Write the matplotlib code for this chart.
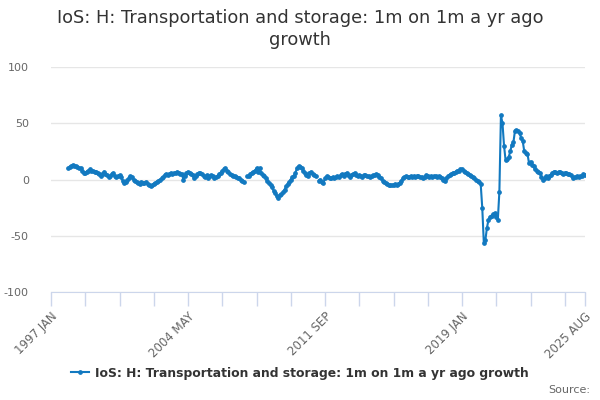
import numpy as np
import matplotlib
matplotlib.use("Agg")
from matplotlib import pyplot as plt

nan = np.nan

# monthly growth (%), one list per year, Jan..Dec
y1997 = [nan] * 11 + [10]
y1998 = [11, 12, 13, 12, 12, 11, 10, 10, 8, 6, 6, 7]
y1999 = [8, 9, 8, 8, 7, 7, 6, 5, 3, 5, 7, 5]
y2000 = [4, 2, 3, 5, 6, 3, 2, 3, 4, 2, -1, -3]
y2001 = [-2, 0, 1, 3, 2, 0, -1, -2, -3, -4, -2, -3]
y2002 = [-3, -2, -4, -5, -6, -5, -4, -3, -2, -1, 0, 1]
y2003 = [2, 4, 5, 4, 5, 6, 5, 6, 6, 7, 6, 5]
y2004 = [5, 0, 3, 6, 7, 6, 5, 4, 1, 3, 5, 6]
y2005 = [6, 5, 3, 2, 4, 1, 3, 4, 3, 1, 2, 3]
y2006 = [5, 6, 8, 9, 10, 8, 7, 5, 4, 3, 3, 2]
y2007 = [1, 1, 0, -1, -2, nan, 3, 3, 5, 6, 7, 8]
y2008 = [10, 7, 10, 6, 4, 3, 1, -1, -3, -5, -7, -10]
y2009 = [-12, -15, -16, -14, -13, -11, -9, -6, -4, -2, 0, 2]
y2010 = [3, 6, 10, 12, 11, 10, 8, 6, 4, 3, 6, 7]
y2011 = [5, 4, 3, nan, -1, 0, -2, -3, 1, 3, 2, 1]
y2012 = [1, 2, 1, 2, 3, 2, 4, 5, 3, 5, 6, 4]
y2013 = [2, 4, 5, 6, 4, 3, 4, 3, 2, 4, 4, 3]
y2014 = [3, 2, 3, 4, 4, 5, 4, 2, 1, -1, -2, -3]
y2015 = [-4, -5, -5, -5, -5, -4, -5, -4, -3, -1, 1, 2]
y2016 = [3, 2, 2, 3, 2, 3, 2, 3, 3, 2, 2, 1]
y2017 = [2, 4, 3, 2, 3, 2, 3, 3, 2, 3, 2, 1]
y2018 = [0, -1, 1, 3, 4, 5, 6, 6, 7, 8, 8, 9]
y2019 = [9, 8, 7, 6, 5, 4, 3, 2, 1, 0, -1, -2]
y2020 = [-4, -25, -56, -54, -43, -36, -33, -32, -31, -30, -33, -36]
y2021 = [-11, 57, 50, 30, 17, 18, 20, 25, 31, 33, 43, 44]
y2022 = [43, 41, 37, 34, 25, 24, 23, 15, 16, 13, 12, 9]
y2023 = [8, 7, 6, 2, 0, 1, 3, 1, 3, 4, 6, 7]
y2024 = [7, 6, 7, 7, 6, 5, 6, 6, 5, 5, 4, 1]
y2025 = [2, 2, 3, 2, 3, 3, 5, 4]

years = [y1997, y1998, y1999, y2000, y2001, y2002, y2003, y2004, y2005,
         y2006, y2007, y2008, y2009, y2010, y2011, y2012, y2013, y2014,
         y2015, y2016, y2017, y2018, y2019, y2020, y2021, y2022, y2023,
         y2024, y2025]
values = np.array([v for yr in years for v in yr], dtype=float)

month_names = ["JAN", "FEB", "MAR", "APR", "MAY", "JUN", "JUL", "AUG",
               "SEP", "OCT", "NOV", "DEC"]
categories = [f"{1997 + k // 12} {month_names[k % 12]}" for k in range(len(values))]

label_months = ["1997 JAN", "2004 MAY", "2011 SEP", "2019 JAN", "2025 AUG"]
y_ticks = [-100, -50, 0, 50, 100]

title = "IoS: H: Transportation and storage: 1m on 1m a yr ago\ngrowth"
series_name = "IoS: H: Transportation and storage: 1m on 1m a yr ago growth"

blue = "#1279c0"
grey_txt = "#666666"
axis_col = "#ccd6eb"

fig = plt.figure(figsize=(6, 4), dpi=100)
ax = fig.add_axes([0.085, 0.27, 0.89, 0.5625])

x = np.arange(len(values))
ax.plot(x, values, color=blue, lw=1.5, marker="o", ms=2.4,
        label=series_name, zorder=3)

ax.set_xlim(0, len(values) - 1)
ax.set_ylim(-100, 100)

# tick every 22 months plus the last month
tick_pos = list(range(0, len(values) - 1, 22)) + [len(values) - 1]
ax.set_xticks(tick_pos)
ax.set_xticklabels([categories[p] if categories[p] in label_months else ""
                    for p in tick_pos],
                   rotation=45, ha="right", va="top", rotation_mode="anchor",
                   fontsize=8.5, color=grey_txt)
ax.tick_params(axis="x", length=10, width=1, color=axis_col, pad=3)

ax.set_yticks(y_ticks)
ax.set_yticklabels([str(t) for t in y_ticks], fontsize=8, color=grey_txt)
ax.tick_params(axis="y", length=0, pad=16)

ax.grid(axis="y", color="#e6e6e6", lw=1)
ax.set_axisbelow(True)
for side in ["top", "right", "left"]:
    ax.spines[side].set_visible(False)
ax.spines["bottom"].set_color(axis_col)

fig.text(0.5, 0.978, title, ha="center", va="top", fontsize=12.8,
         color="#333333", linespacing=1.3)

fig.legend(loc="center", bbox_to_anchor=(0.5, 0.0675), frameon=False,
           prop={"weight": "bold", "size": 8.9}, handlelength=1.4,
           handletextpad=0.5, labelcolor="#333333")
fig.text(0.983, 0.025, "Source:", ha="right", va="center", fontsize=8,
         color=grey_txt)

fig.savefig("out.png", dpi=100)
